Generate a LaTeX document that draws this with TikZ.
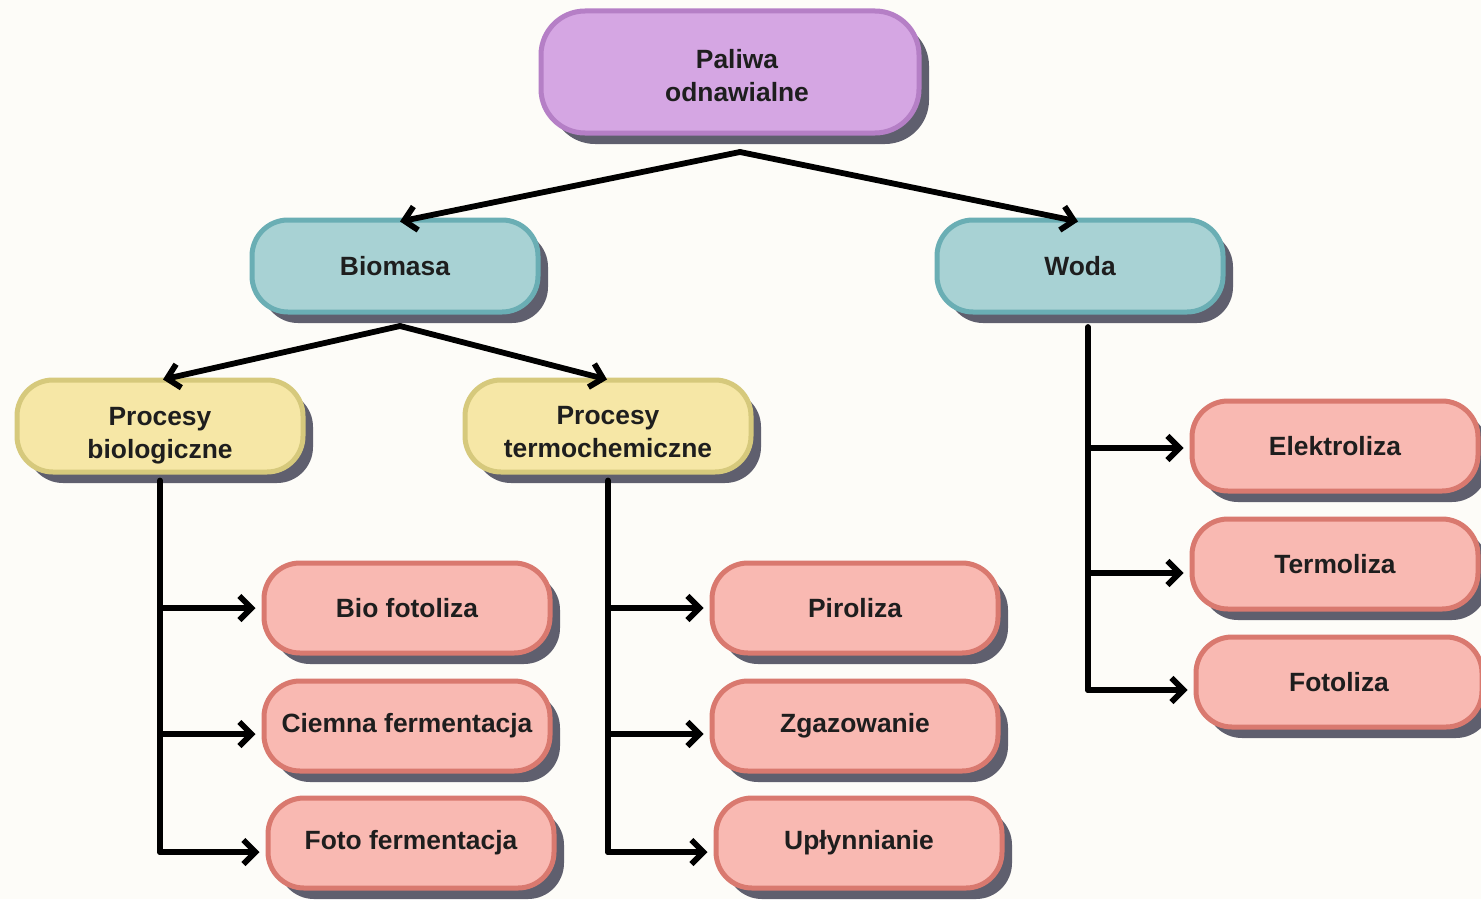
\documentclass[tikz,border=0pt]{standalone}
\usepackage{fontspec}
\setmainfont{Liberation Sans}
\usetikzlibrary{arrows.meta,shadows}
\definecolor{bg}{HTML}{FDFCF8}
\definecolor{purplefill}{HTML}{D5A6E3}
\definecolor{purpleline}{HTML}{B57FC6}
\definecolor{tealfill}{HTML}{A8D2D4}
\definecolor{tealline}{HTML}{6AAEB4}
\definecolor{yellowfill}{HTML}{F6E7A6}
\definecolor{yellowline}{HTML}{D6C97C}
\definecolor{pinkfill}{HTML}{F9B9B2}
\definecolor{pinkline}{HTML}{D9796F}
\definecolor{shadowgray}{HTML}{5F5F6E}
\definecolor{txt}{HTML}{1E1E1E}
\tikzset{
  box/.style={rounded corners=18pt, line width=2.5pt, align=center,
    text=txt, font=\bfseries\fontsize{13.2}{16.5}\selectfont,
    drop shadow={shadow xshift=5pt, shadow yshift=-5.5pt, fill=shadowgray, opacity=1},
    minimum width=143pt, minimum height=46pt, inner sep=0pt},
  rootbox/.style={box, fill=purplefill, draw=purpleline, minimum width=189pt, minimum height=61pt, rounded corners=22pt},
  tealbox/.style={box, fill=tealfill, draw=tealline},
  yellowbox/.style={box, fill=yellowfill, draw=yellowline},
  pinkbox/.style={box, fill=pinkfill, draw=pinkline, minimum height=45pt},
  arr/.style={line width=2.9pt, line cap=round, line join=round, -{Straight Barb[length=6pt,width=12pt,line width=2.9pt]}},
  ln/.style={line width=2.9pt, line cap=round, line join=round}
}
\begin{document}
\begin{tikzpicture}[x=0.5pt,y=-0.5pt]
\fill[bg] (0,0) rectangle (1481,899);
\useasboundingbox (0,0) rectangle (1481,899);

\node[rootbox] (P) at (730,72) {\rule{0pt}{13pt}\hspace*{7pt}Paliwa\\\hspace*{7pt}odnawialne};
\node[tealbox] (B) at (395,266) {Biomasa};
\node[tealbox] (W) at (1080,266) {Woda};
\node[yellowbox] (PB) at (160,426) {\rule{0pt}{18.5pt}Procesy\\biologiczne};
\node[yellowbox] (PT) at (608,426) {\rule{0pt}{15.5pt}Procesy\\termochemiczne};
\node[pinkbox] (BF) at (407,608) {Bio fotoliza};
\node[pinkbox] (CF) at (407,726) {Ciemna fermentacja};
\node[pinkbox] (FF) at (411,843) {Foto fermentacja};
\node[pinkbox] (PI) at (855,608) {Piroliza};
\node[pinkbox] (ZG) at (855,726) {Zgazowanie};
\node[pinkbox] (UP) at (859,843) {Upłynnianie};
\node[pinkbox] (EL) at (1335,446) {Elektroliza};
\node[pinkbox] (TE) at (1335,564) {Termoliza};
\node[pinkbox] (FO) at (1339,682) {Fotoliza};

\coordinate (Pa) at (740,152);
\coordinate (Ba) at (400,326);
\draw[arr] (Pa) -- ([xshift=2.5pt,yshift=-2pt]B.north);
\draw[arr] (Pa) -- ([xshift=-1pt,yshift=-2pt]W.north);
\draw[arr] (Ba) -- ([xshift=1.5pt,yshift=-1pt]PB.north);
\draw[arr] (Ba) -- ([xshift=-0.5pt,yshift=-1pt]PT.north);

% Biological branch
\coordinate (PBb) at (160,852);
\draw[ln] ([yshift=-3pt]PB.south) -- (PBb);
\draw[arr] (PB.south |- BF) -- ([xshift=-3pt]BF.west);
\draw[arr] (PB.south |- CF) ++(0,8) -- ([xshift=-3pt,yshift=-4pt]CF.west);
\draw[arr] (PBb) -- ([xshift=-3pt,yshift=-4.5pt]FF.west);

% Thermochemical branch
\coordinate (PTb) at (608,852);
\draw[ln] ([yshift=-3pt]PT.south) -- (PTb);
\draw[arr] (PT.south |- PI) -- ([xshift=-3pt]PI.west);
\draw[arr] (PT.south |- ZG) ++(0,8) -- ([xshift=-3pt,yshift=-4pt]ZG.west);
\draw[arr] (PTb) -- ([xshift=-3pt,yshift=-4.5pt]UP.west);

% Water branch
\coordinate (Wt) at (1088,327);
\coordinate (Wb) at (1088,690);
\draw[ln] (Wt) -- (Wb);
\draw[arr] (Wt |- EL) ++(0,2) -- ([xshift=-3pt,yshift=-1pt]EL.west);
\draw[arr] (Wt |- TE) ++(0,9) -- ([xshift=-3pt,yshift=-4.5pt]TE.west);
\draw[arr] (Wb) -- ([xshift=-3pt,yshift=-4pt]FO.west);
\end{tikzpicture}
\end{document}
